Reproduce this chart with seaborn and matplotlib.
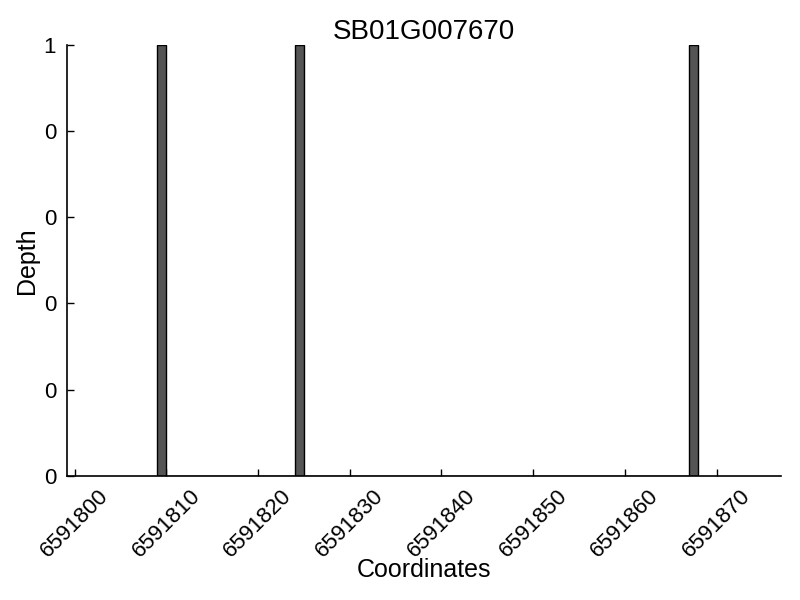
import matplotlib
matplotlib.use('Agg')
import matplotlib.pyplot as plt
import matplotlib.ticker as mticker
import seaborn as sns

# Read depth per coordinate
coords = [6591809, 6591824, 6591867]
depth = [1, 1, 1]
xticks = [6591800, 6591810, 6591820, 6591830, 6591840, 6591850, 6591860, 6591870]
yticks = [0, 0.2, 0.4, 0.6, 0.8, 1.0]

sns.set_style('ticks')
plt.rcParams['font.family'] = ['Liberation Sans', 'DejaVu Sans']

fig = plt.figure(figsize=(8, 6), dpi=100)
ax = fig.add_axes([0.084, 0.207, 0.892, 0.718])

sns.histplot(x=coords, weights=depth, binwidth=1, binrange=(coords[0], coords[-1] + 1),
             color='#555555', edgecolor='black', linewidth=1, alpha=1, ax=ax)

ax.set_xlim(6591799.2, 6591877.0)
ax.set_ylim(0, 1)
ax.set_xticks(xticks)
ax.set_yticks(yticks)
ax.xaxis.set_major_formatter(mticker.FormatStrFormatter('%d'))
ax.yaxis.set_major_formatter(mticker.FormatStrFormatter('%d'))
ax.tick_params(direction='in', length=5, width=1, labelsize=16, colors='black')
ax.tick_params(axis='y', pad=8)
ax.tick_params(axis='x', pad=7)
plt.setp(ax.get_xticklabels(), rotation=45)
for s in ['left', 'bottom']:
    ax.spines[s].set_color('black')
    ax.spines[s].set_linewidth(1.2)
sns.despine(ax=ax)

ax.set_title('SB01G007670', fontsize=20, color='black', pad=4)
ax.set_xlabel('Coordinates', fontsize=18, color='black', labelpad=-3)
ax.set_ylabel('Depth', fontsize=18, color='black', labelpad=3)

fig.savefig('out.png', dpi=100)
